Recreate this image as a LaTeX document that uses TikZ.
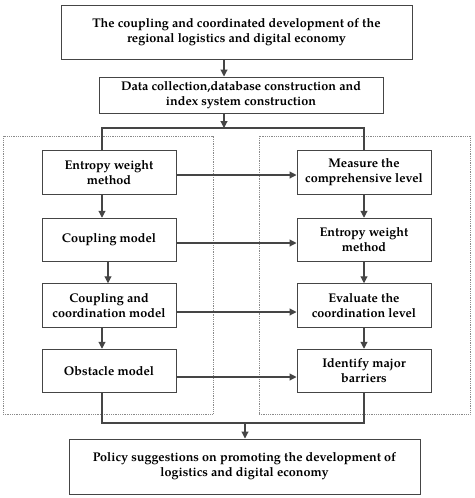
\documentclass[tikz,border=0pt]{standalone}
\usepackage{fontspec}
\setmainfont{TeX Gyre Pagella}
\usetikzlibrary{arrows.meta}
\definecolor{lc}{HTML}{454545}
\definecolor{fc}{HTML}{8A8A8A}
\begin{document}
\begin{tikzpicture}[x=1pt,y=-1pt,
  box/.style={draw=lc, line width=1pt, fill=white, align=center, inner sep=0pt,
    font=\bfseries\fontsize{12.6}{15}\selectfont},
  bigbox/.style={box, minimum width=351pt, minimum height=54pt},
  colbox/.style={box, minimum width=134pt, minimum height=43.5pt},
  conn/.style={draw=lc, line width=1.1pt},
  arr/.style={conn, -{Triangle[length=7pt,width=7pt]}},
  framebox/.style={draw=fc, densely dotted, line width=0.8pt, inner sep=0pt}]
\useasboundingbox (0,0) rectangle (474,498);
% dotted frames
\node[framebox, minimum width=210pt, minimum height=278pt] (lf) at (108,275) {};
\node[framebox, minimum width=211pt, minimum height=278pt] (rf) at (364.5,275) {};
% main boxes
\node[bigbox] (top) at (236.5,32) {The coupling and coordinated development of the\\regional logistics and digital economy};
\node[box, minimum width=284pt, minimum height=36pt] (dat) at (241,95) {Data collection,database construction and\\index system construction};
\node[bigbox, minimum height=55pt] (bot) at (244.5,466.5) {Policy suggestions on promoting the development of\\logistics and digital economy};
% left column
\node[colbox] (l1) at (109,172.5) {Entropy weight\\method};
\node[colbox] (l2) at (109,240) {Coupling model};
\node[colbox] (l3) at (109,305.5) {Coupling and\\coordination model};
\node[colbox] (l4) at (109,371) {Obstacle model};
% right column
\node[colbox] (r1) at (364,172.5) {Measure the\\comprehensive level};
\node[colbox] (r2) at (364,240) {Entropy weight\\method};
\node[colbox] (r3) at (364,305.5) {Evaluate the\\coordination level};
\node[colbox] (r4) at (364,371) {Identify major\\barriers};
% helper coordinates
\coordinate (jt) at (224,128);
\coordinate (jl) at (102,128);
\coordinate (jr) at (364,128);
\coordinate (ml) at (108,0);
\coordinate (bl) at (102,423);
\coordinate (br) at (364,423);
\coordinate (bm) at (245,423);
% top connectors
\draw[arr] (top.south -| jt) -- (dat.north -| jt);
\draw[arr] (dat.south -| jt) -- (jt);
\draw[conn] (l1.north -| jl) -- (jl) -- (jr) -- (r1.north -| jr);
% left column
\draw[arr] (l1.south -| jl) -- (l2.north -| jl);
\draw[arr] (l2.south -| ml) -- (l3.north -| ml);
\draw[arr] (l3.south -| jl) -- (l4.north -| jl);
% right column
\draw[arr] (r1.south) -- (r2.north);
\draw[arr] (r2.south) -- (r3.north);
\draw[arr] (r3.south) -- (r4.north);
% horizontal links
\draw[arr] ([yshift=-2.5pt]l1.east) -- ([yshift=-2.5pt]r1.west);
\draw[arr] ([yshift=-3pt]l2.east) -- ([yshift=-3pt]r2.west);
\draw[arr] ([yshift=-6.5pt]l3.east) -- ([yshift=-6.5pt]r3.west);
\draw[arr] ([yshift=-6pt]l4.east) -- ([yshift=-6pt]r4.west);
% bottom connectors
\draw[conn] (l4.south -| bl) -- (bl) -- (br) -- (r4.south -| br);
\draw[arr] (bm) -- (bot.north -| bm);
\end{tikzpicture}
\end{document}
